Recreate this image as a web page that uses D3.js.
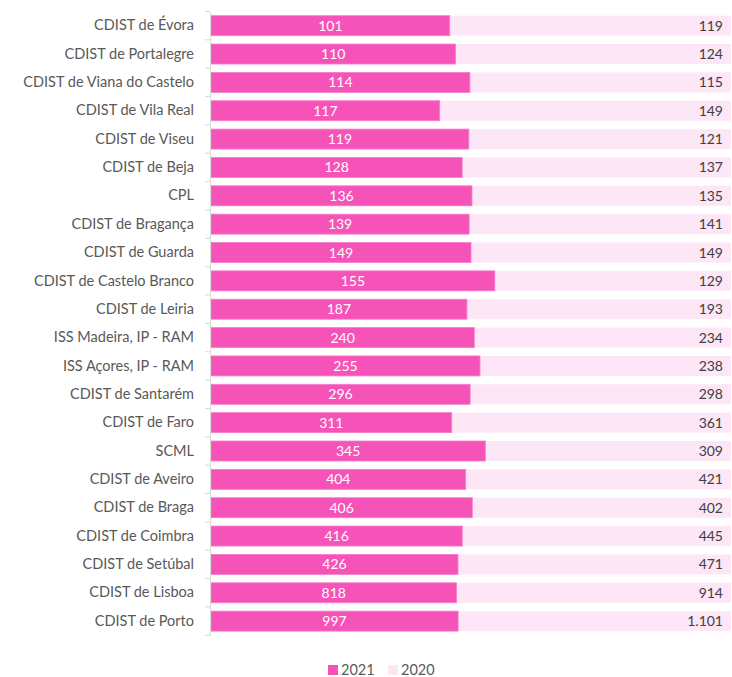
<!DOCTYPE html>
<html><head><meta charset="utf-8">
<script src="https://cdn.jsdelivr.net/npm/d3@7"></script>
<style>body{margin:0;background:#fff;}svg text{font-family:Lato,"Open Sans",sans-serif;}</style>
</head><body><svg id="c" width="732" height="677"></svg>
<script>
const categories = ["CDIST de Évora","CDIST de Portalegre","CDIST de Viana do Castelo","CDIST de Vila Real","CDIST de Viseu","CDIST de Beja","CPL","CDIST de Bragança","CDIST de Guarda","CDIST de Castelo Branco","CDIST de Leiria","ISS Madeira, IP - RAM ","ISS Açores, IP - RAM","CDIST de Santarém","CDIST de Faro","SCML","CDIST de Aveiro","CDIST de Braga","CDIST de Coimbra","CDIST de Setúbal","CDIST de Lisboa","CDIST de Porto"];
const values2021 = [101,110,114,117,119,128,136,139,149,155,187,240,255,296,311,345,404,406,416,426,818,997];
const values2020 = [119,124,115,149,121,137,135,141,149,129,193,234,238,298,361,309,421,402,445,471,914,1101];
const seriesNames = ["2021","2020"];
const colors = ["#f553b8","#fde6f6"];

const svg = d3.select("#c");
const m = {left:211, right:731, top:11.5, bottom:635.3};
const x = d3.scaleLinear().domain([0,1]).range([m.left, m.right]);
const y = d3.scaleBand().domain(categories).range([m.top, m.bottom]).paddingInner(0.295).paddingOuter(0.1475);
const fmt = d3.formatLocale({decimal:",", thousands:".", grouping:[3], currency:["","€"]}).format(",d");

const rows = categories.map((c,i)=>({c, a:values2021[i], b:values2020[i], t:values2021[i]+values2020[i]}));

svg.append("g").selectAll("rect").data(rows).join("rect")
  .attr("x", d=>x(d.a/d.t)).attr("width", d=>x(1)-x(d.a/d.t))
  .attr("y", d=>y(d.c)).attr("height", y.bandwidth()).attr("fill", colors[1]);
svg.append("g").selectAll("rect").data(rows).join("rect")
  .attr("x", x(0)).attr("width", d=>x(d.a/d.t)-x(0))
  .attr("y", d=>y(d.c)).attr("height", y.bandwidth()).attr("fill", colors[0])
  .attr("stroke","#f77cc8").attr("stroke-width",0.8);

svg.append("g").selectAll("text").data(rows).join("text")
  .attr("x", d=>(x(0)+x(d.a/d.t))/2).attr("y", d=>y(d.c)+y.bandwidth()/2)
  .attr("dy","0.36em").attr("text-anchor","middle").attr("fill","#fff").attr("font-size",14)
  .text(d=>fmt(d.a));
svg.append("g").selectAll("text").data(rows).join("text")
  .attr("x", 723).attr("y", d=>y(d.c)+y.bandwidth()/2)
  .attr("dy","0.36em").attr("text-anchor","end").attr("fill","#404040").attr("font-size",14)
  .text(d=>fmt(d.b));

const ax = svg.append("g").attr("transform",`translate(210,0)`)
  .call(d3.axisLeft(y).tickSize(0).tickPadding(16));
ax.select(".domain").attr("stroke","#d9d9d9");
ax.selectAll("text").attr("fill","#595959").attr("font-size",14.5).attr("font-family","Lato,sans-serif");
const bounds = categories.map(c=>y(c)-y.step()*y.paddingInner()/2);
bounds.push(m.bottom);
bounds[0] = m.top;
svg.append("g").selectAll("line").data(bounds).join("line")
  .attr("x1",205).attr("x2",210).attr("y1",d=>d).attr("y2",d=>d)
  .attr("stroke","#d9d9d9");

const lg = svg.append("g");
const lx = [328, 388];
seriesNames.forEach((s,i)=>{
  lg.append("rect").attr("x",lx[i]).attr("y",665).attr("width",10).attr("height",10).attr("fill",colors[i]);
  lg.append("text").attr("x",lx[i]+13).attr("y",669.5).attr("dy","0.36em").attr("fill","#595959").attr("font-size",14.5).text(s);
});
</script></body></html>
